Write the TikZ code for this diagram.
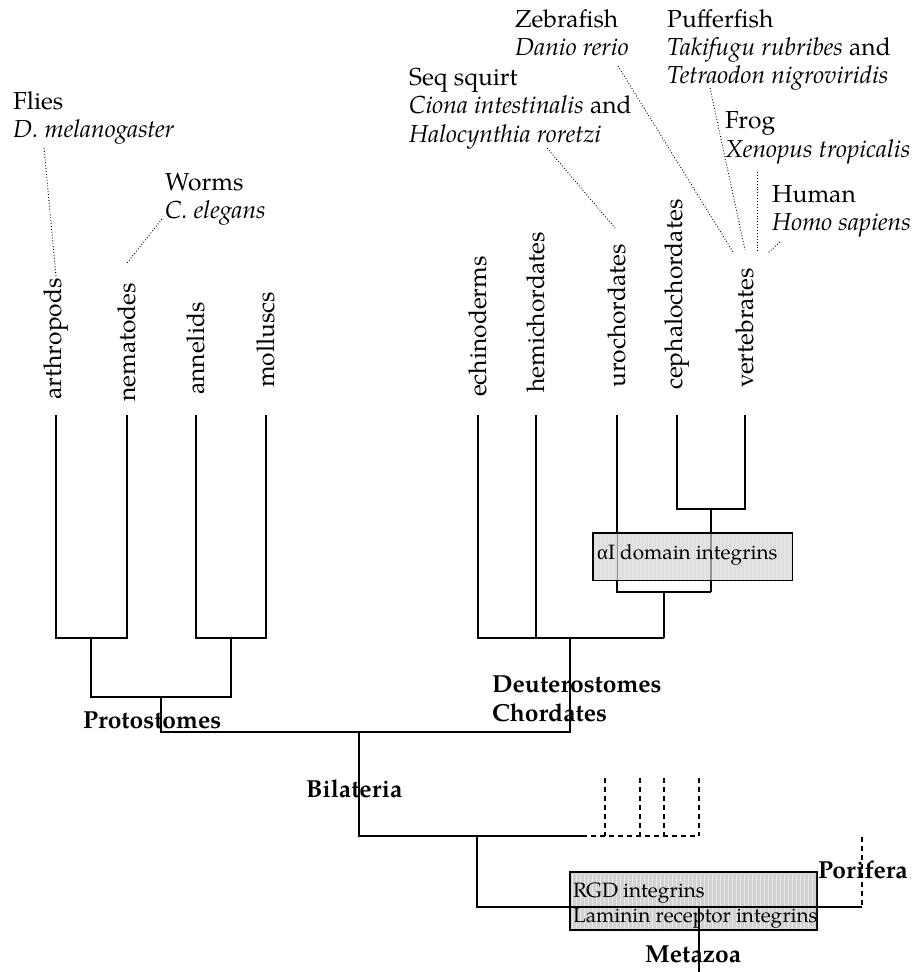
\documentclass[tikz,border=0pt]{standalone}
\usepackage{fontspec}
\setmainfont{TeX Gyre Pagella}
\newfontfamily\grk{Liberation Serif}
\begin{document}
\begin{tikzpicture}[x=1pt,y=-1pt,
  br/.style={line width=1.6pt},
  dots/.style={dotted, line width=0.9pt},
  dsh/.style={dash pattern=on 5pt off 4pt, line width=1.6pt},
  leaf/.style={rotate=90, anchor=west, inner sep=0pt, font=\fontsize{24.6}{29}\selectfont},
  sp/.style={anchor=base west, inner sep=0pt, font=\fontsize{24.6}{29}\selectfont},
  spi/.style={sp, font=\fontsize{24.6}{29}\selectfont\itshape},
  grp/.style={anchor=base west, inner sep=0pt, font=\fontsize{24.6}{29}\selectfont\bfseries},
  btxt/.style={anchor=base west, inner sep=0pt, font=\fontsize{20.7}{25}\selectfont},
  gridc/.style={draw=gray!18, line width=0.4pt}
]
\useasboundingbox (0,0) rectangle (914,972);

% ---------- leaf labels ----------
\node[leaf] (Lar) at (56,400) {arthropods};
\node[leaf] (Lne) at (127,402) {nematodes};
\node[leaf] (Lan) at (196,395) {annelids};
\node[leaf] (Lmo) at (266,388) {molluscs};
\node[leaf] (Lec) at (478,397) {echinoderms};
\node[leaf] (Lhe) at (536,393) {hemichordates};
\node[leaf] (Lur) at (617,388) {urochordates};
\node[leaf] (Lce) at (677,390) {cephalochordates};
\node[leaf] (Lve) at (745,388) {vertebrates};

% ---------- species labels ----------
\node[sp]  (fl1) at (13,109) {Flies};
\node[spi] (fl2) at (13,137) {D. melanogaster};
\node[sp]  (wo1) at (165,190) {Worms};
\node[spi] (wo2) at (165,218) {C. elegans};
\node[sp]  (ze1) at (515,27) {Zebrafish};
\node[spi] (ze2) at (515,55) {Danio rerio};
\node[sp]  (sq1) at (409,85) {Seq squirt};
\node[sp]  (sq2) at (409,113) {\itshape Ciona intestinalis\upshape{} and};
\node[spi] (sq3) at (409,142) {Halocynthia roretzi};
\node[sp]  (pu1) at (667,27) {Pufferfish};
\node[sp]  (pu2) at (667,55) {\itshape Takifugu rubribes\upshape{} and};
\node[spi] (pu3) at (667,83) {Tetraodon nigroviridis};
\node[sp]  (fr1) at (725,128) {Frog};
\node[spi] (fr2) at (725,157) {Xenopus tropicalis};
\node[sp]  (hu1) at (772,202) {Human};
\node[spi] (hu2) at (772,230) {Homo sapiens};

% dotted pointers
\coordinate (dfA) at (44,148);  \coordinate (dfB) at (56,276);
\coordinate (dwA) at (162,219); \coordinate (dwB) at (127,263);
\coordinate (dzA) at (618,66);  \coordinate (dzB) at (733,252);
\coordinate (dsA) at (547,148); \coordinate (dsB) at (615,228);
\coordinate (dpA) at (710,88);  \coordinate (dpB) at (745,250);
\coordinate (drA) at (757,172); \coordinate (drB) at (757,252);
\coordinate (dhA) at (780,242); \coordinate (dhB) at (768,253);
\foreach \a/\b in {dfA/dfB,dwA/dwB,dzA/dzB,dsA/dsB,dpA/dpB,drA/drB,dhA/dhB}
  \draw[dots] (\a) -- (\b);

% ---------- RGD box (under the lines) ----------
\node[draw, line width=1.4pt, fill=gray!35, inner sep=0pt, anchor=north west,
      minimum width=246pt, minimum height=57pt] (rgd) at (570,872) {};
\begin{scope}
  \clip (570,872) rectangle (816,929);
  \draw[gridc, step=4] (570,872) grid (816,929);
\end{scope}
\draw[line width=1.4pt] (rgd.north west) rectangle (rgd.south east);
\node[btxt] (rgdt) at (573,897) {RGD integrins};
\node[btxt] (lamt) at (573,922) {Laminin receptor integrins};

% ---------- tree coordinates ----------
\foreach \n/\x in {ar/56,ne/127,an/196,mo/266,ec/478,he/536,ur/617,ce/677,ve/745}
  \coordinate (t\n) at (\x,415);
\coordinate (b_ar) at (56,638);  \coordinate (b_ne) at (127,638);
\coordinate (b_an) at (196,638); \coordinate (b_mo) at (266,638);
\coordinate (j1) at (91,638);  \coordinate (j1b) at (91,697);
\coordinate (j2) at (231,638); \coordinate (j2b) at (231,697);
\coordinate (pr) at (161,697); \coordinate (prb) at (161,732);
\coordinate (b_ec) at (478,638); \coordinate (b_he) at (536,638);
\coordinate (b_ur) at (617,592); \coordinate (b_ce) at (677,509); \coordinate (b_ve) at (745,509);
\coordinate (jv) at (711,509); \coordinate (jvb) at (711,592);
\coordinate (ju) at (664,592); \coordinate (jub) at (664,638);
\coordinate (de) at (570,638); \coordinate (deb) at (570,732);
\coordinate (bi) at (359,732); \coordinate (bib) at (359,836);
\coordinate (sol) at (582,836); \coordinate (dend) at (699,836);
\coordinate (mz) at (477,836); \coordinate (mzb) at (477,907);
\coordinate (po) at (862,907); \coordinate (pot) at (862,837);
\coordinate (rt) at (699,907); \coordinate (rtb) at (699,972);

% protostomes
\draw[br] (tar) -- (b_ar) -- (b_ne) -- (tne);
\draw[br] (tan) -- (b_an) -- (b_mo) -- (tmo);
\draw[br] (j1) -- (j1b) -- (j2b) -- (j2);
\draw[br] (pr) -- (prb) -- (deb) -- (de);
% deuterostomes
\draw[br] (tce) -- (b_ce) -- (b_ve) -- (tve);
\draw[br] (jv) -- (jvb);
\draw[br] (tur) -- (b_ur) -- (jvb);
\draw[br] (ju) -- (jub);
\draw[br] (tec) -- (b_ec) -- (jub);
\draw[br] (the) -- (b_he);
% bilateria / metazoa
\draw[br] (bi) -- (bib) -- (sol);
\draw[br, dsh] (sol) -- (dend);
\foreach \x in {605,640,664,699} {
  \coordinate (dv\x) at (\x,778);
  \draw[dsh] (dv\x) -- (\x,836);
}
\draw[br] (mz) -- (mzb) -- (po);
\draw[dsh] (pot) -- (po);
\draw[br] (rt) -- (rtb);

% ---------- alpha I box (over the lines, translucent) ----------
\node[inner sep=0pt, anchor=north west, minimum width=199pt, minimum height=47pt,
      fill=gray!35, fill opacity=0.7] (ai) at (593,533) {};
\begin{scope}
  \clip (593,533) rectangle (792,580);
  \draw[gridc, step=4, opacity=0.8] (593,533) grid (792,580);
\end{scope}
\draw[line width=1.4pt] (ai.north west) rectangle (ai.south east);
\node[btxt] (ait) at (597,559) {{\grk α}I domain integrins};

% ---------- group labels ----------
\node[grp] (Gpr) at (83,728) {Protostomes};
\node[grp] (Gde) at (492,692) {Deuterostomes};
\node[grp] (Gch) at (492,721) {Chordates};
\node[grp] (Gbi) at (306,797) {Bilateria};
\node[grp] (Gpo) at (818,878) {Porifera};
\node[grp] (Gme) at (645,962) {Metazoa};
\end{tikzpicture}
\end{document}
